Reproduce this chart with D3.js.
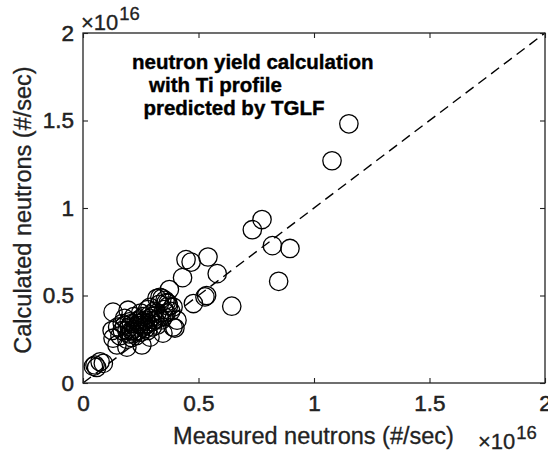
<!DOCTYPE html>
<html><head><meta charset="utf-8">
<script src="https://cdn.jsdelivr.net/npm/d3@7"></script>
<style>body{margin:0;background:#fff;} svg{display:block;font-family:"Liberation Sans",Arial,Helvetica,sans-serif;}</style>
</head><body>
<svg id="c" width="548" height="457"></svg>
<script>
// Values in units of 1e16 neutrons/sec
const measured = [1.151,1.078,0.775,0.733,0.820,0.896,0.847,0.644,0.541,0.581,0.446,0.468,0.431,0.374,0.478,0.528,0.535,
  0.052,0.074,0.088,0.059,0.045,
  0.130,0.195,0.126,0.130,0.147,0.190,0.255,0.290,0.346,0.390,0.407,0.368,0.320,0.290,0.342,0.333,0.355,0.390,0.398,
  0.16,0.17,0.18,0.19,0.20,0.20,0.21,0.22,0.22,0.23,0.24,0.24,0.25,0.26,0.27,0.28,0.28,0.30,0.30,0.32,0.32,0.33,0.35,0.35,0.36,0.37,0.38,0.15,0.18,0.21,0.25,0.27,0.29,0.31,0.34,0.23,0.26,0.19,
  0.17,0.20,0.22,0.24,0.26,0.28,0.30,0.33,0.21,0.25,0.29,0.31,0.36,0.23,0.27];
const calculated = [1.481,1.270,0.934,0.876,0.785,0.769,0.581,0.439,0.720,0.625,0.705,0.691,0.602,0.534,0.454,0.492,0.500,
  0.103,0.121,0.112,0.089,0.095,
  0.405,0.416,0.300,0.256,0.217,0.205,0.217,0.262,0.285,0.320,0.359,0.456,0.484,0.433,0.484,0.490,0.473,0.434,0.314,
  0.27,0.30,0.33,0.25,0.28,0.35,0.26,0.31,0.38,0.27,0.30,0.34,0.40,0.32,0.36,0.30,0.42,0.35,0.38,0.33,0.40,0.45,0.38,0.42,0.46,0.44,0.41,0.32,0.37,0.34,0.29,0.33,0.37,0.41,0.36,0.35,0.38,0.30,
  0.34,0.32,0.29,0.36,0.35,0.34,0.32,0.37,0.30,0.33,0.39,0.36,0.40,0.32,0.31];
const xTicks = [0,0.5,1,1.5,2];
const yTicks = [0,0.5,1,1.5,2];
const xTickLabels = ["0","0.5","1","1.5","2"];
const yTickLabels = ["0","0.5","1","1.5","2"];
const annotation = ["neutron yield calculation","   with Ti profile","  predicted by TGLF"];
const xLabel = "Measured neutrons (#/sec)";
const yLabel = "Calculated neutrons (#/sec)";

const L=83,R=545,T=33,B=383;
const x=d3.scaleLinear().domain([0,2]).range([L,R]);
const y=d3.scaleLinear().domain([0,2]).range([B,T]);
const svg=d3.select("#c");
const fmt=(arr)=>(d,i)=>arr[i];
const INK="#222";

// diagonal dashed line
svg.append("line").attr("x1",x(0)).attr("y1",y(0)).attr("x2",x(2)).attr("y2",y(2))
  .attr("stroke","#000").attr("stroke-width",1.4).attr("stroke-dasharray","10,6");

// points
svg.append("g").selectAll("circle").data(measured).join("circle")
  .attr("cx",d=>x(d)).attr("cy",(d,i)=>y(calculated[i])).attr("r",9.2)
  .attr("fill","none").attr("stroke","#000").attr("stroke-width",1.3);

// axes
const xb=svg.append("g").attr("transform",`translate(0,${B})`).call(d3.axisBottom(x).tickValues(xTicks).tickFormat(fmt(xTickLabels)).tickSizeInner(-5).tickSizeOuter(0).tickPadding(12));
const xt=svg.append("g").attr("transform",`translate(0,${T})`).call(d3.axisTop(x).tickValues(xTicks).tickFormat("").tickSizeInner(-5).tickSizeOuter(0));
const yl=svg.append("g").attr("transform",`translate(${L},0)`).call(d3.axisLeft(y).tickValues(yTicks).tickFormat(fmt(yTickLabels)).tickSizeInner(-5).tickSizeOuter(0).tickPadding(9));
const yr=svg.append("g").attr("transform",`translate(${R},0)`).call(d3.axisRight(y).tickValues(yTicks).tickFormat("").tickSizeInner(-5).tickSizeOuter(0));
[xb,xt,yl,yr].forEach(g=>{g.select(".domain").remove();g.selectAll("line").attr("stroke",INK).attr("stroke-width",1.1);
  g.selectAll("text").attr("fill",INK).attr("stroke",INK).attr("stroke-width",0.5).style("font-size","22.5px").style("font-family","'Liberation Sans',Arial,sans-serif");});
svg.append("rect").attr("x",L).attr("y",T).attr("width",R-L).attr("height",B-T).attr("fill","none").attr("stroke",INK).attr("stroke-width",1.3);

// axis labels
svg.append("text").attr("x",(L+R)/2-0.5).attr("y",444).attr("text-anchor","middle").attr("fill",INK).attr("stroke",INK).attr("stroke-width",0.3).style("font-size","23.5px").text(xLabel);
svg.append("text").attr("transform",`translate(31,${(T+B)/2+2}) rotate(-90)`).attr("text-anchor","middle").attr("fill",INK).attr("stroke",INK).attr("stroke-width",0.3).style("font-size","23.5px").text(yLabel);

// exponent labels
function expo(xp,yp){
  const t=svg.append("text").attr("x",xp).attr("y",yp).attr("fill",INK).attr("stroke",INK).attr("stroke-width",0.3).style("font-size","22px");
  t.append("tspan").text("\u00d710");
  t.append("tspan").attr("dy",-10).attr("dx",1).style("font-size","18.5px").text("16");
}
expo(81,30);
expo(478,449);

// annotation
const ann=svg.append("text").attr("fill","#000").attr("stroke","#000").attr("stroke-width",0.4).style("font-size","20.5px").style("font-weight","bold").attr("xml:space","preserve");
annotation.forEach((s,i)=>ann.append("tspan").attr("x",132).attr("y",69+i*23).text(s));
</script>
</body></html>
